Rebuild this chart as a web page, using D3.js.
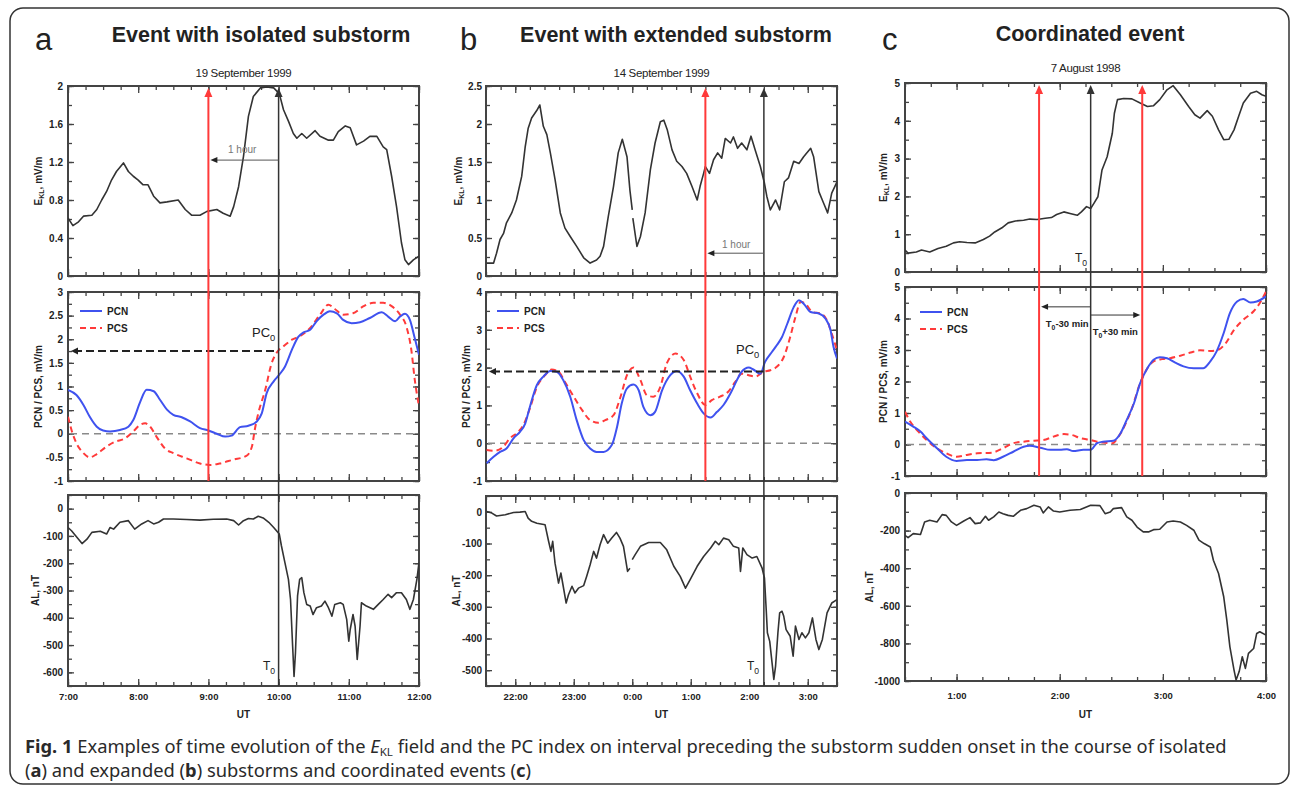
<!DOCTYPE html>
<html>
<head>
<meta charset="utf-8">
<script src="https://d3js.org/d3.v7.min.js"></script>
<style>
  body { margin: 0; background: #fff; }
</style>
</head>
<body>
<script>
// ---- panel a : 19 September 1999 (hours UT) ----
var aEkl = [[7.00,0.61],[7.07,0.53],[7.15,0.57],[7.22,0.63],[7.34,0.64],[7.41,0.70],[7.48,0.80],[7.55,0.89],[7.62,1.01],[7.69,1.10],[7.79,1.19],[7.86,1.10],[7.93,1.05],[8.00,1.01],[8.07,0.96],[8.14,0.96],[8.22,0.84],[8.31,0.77],[8.41,0.78],[8.57,0.80],[8.67,0.70],[8.76,0.64],[8.88,0.64],[8.98,0.68],[9.12,0.70],[9.21,0.66],[9.31,0.63],[9.36,0.73],[9.43,0.94],[9.50,1.26],[9.57,1.68],[9.64,1.89],[9.74,1.98],[9.83,1.99],[9.93,1.98],[10.01,1.92],[10.07,1.75],[10.14,1.63],[10.21,1.50],[10.26,1.45],[10.33,1.50],[10.40,1.45],[10.52,1.53],[10.59,1.47],[10.71,1.43],[10.78,1.43],[10.85,1.52],[10.95,1.58],[11.02,1.56],[11.11,1.38],[11.21,1.42],[11.30,1.47],[11.40,1.47],[11.49,1.36],[11.54,1.33],[11.61,1.05],[11.68,0.73],[11.75,0.35],[11.80,0.17],[11.85,0.12],[11.92,0.17],[12.00,0.21]];
var aPcn = [[7.00,0.93],[7.12,0.82],[7.22,0.61],[7.31,0.36],[7.41,0.15],[7.50,0.07],[7.60,0.05],[7.74,0.08],[7.86,0.15],[7.93,0.29],[8.03,0.68],[8.12,0.93],[8.22,0.90],[8.31,0.72],[8.41,0.51],[8.50,0.40],[8.62,0.35],[8.74,0.26],[8.88,0.12],[9.00,0.07],[9.12,0.00],[9.24,-0.06],[9.33,-0.04],[9.45,0.14],[9.57,0.17],[9.69,0.26],[9.76,0.43],[9.83,0.86],[9.93,1.11],[10.01,1.25],[10.09,1.42],[10.19,1.78],[10.28,2.05],[10.35,2.14],[10.45,2.20],[10.54,2.38],[10.64,2.52],[10.73,2.59],[10.83,2.55],[10.92,2.41],[11.04,2.34],[11.16,2.36],[11.30,2.45],[11.47,2.57],[11.56,2.48],[11.66,2.38],[11.73,2.48],[11.80,2.54],[11.87,2.41],[11.94,2.02],[12.00,1.67]];
var aPcs = [[7.00,0.36],[7.05,0.08],[7.12,-0.20],[7.22,-0.41],[7.31,-0.50],[7.41,-0.43],[7.55,-0.27],[7.67,-0.17],[7.81,-0.10],[7.93,0.05],[8.03,0.19],[8.10,0.22],[8.17,0.15],[8.26,-0.06],[8.38,-0.31],[8.50,-0.41],[8.69,-0.52],[8.88,-0.63],[9.02,-0.66],[9.16,-0.63],[9.35,-0.55],[9.54,-0.47],[9.62,-0.27],[9.66,0.08],[9.71,0.43],[9.81,0.93],[9.90,1.49],[9.97,1.71],[10.07,1.85],[10.19,1.99],[10.31,2.07],[10.45,2.24],[10.59,2.52],[10.71,2.73],[10.80,2.64],[10.92,2.52],[11.06,2.55],[11.21,2.70],[11.35,2.77],[11.49,2.77],[11.61,2.70],[11.73,2.52],[11.82,2.27],[11.89,1.78],[11.94,1.14],[12.00,0.58]];
var aAl = [[7.00,-69],[7.05,-81],[7.15,-112],[7.20,-128],[7.27,-112],[7.34,-87],[7.46,-83],[7.55,-93],[7.60,-69],[7.65,-75],[7.74,-50],[7.86,-44],[7.95,-75],[8.05,-56],[8.14,-44],[8.22,-56],[8.29,-50],[8.36,-38],[8.50,-38],[8.69,-40],[8.88,-42],[9.07,-39],[9.26,-38],[9.36,-44],[9.43,-60],[9.50,-44],[9.57,-36],[9.64,-38],[9.71,-28],[9.78,-34],[9.86,-50],[9.93,-69],[10.01,-93],[10.04,-136],[10.09,-198],[10.14,-259],[10.17,-333],[10.20,-504],[10.22,-615],[10.24,-529],[10.27,-320],[10.30,-259],[10.33,-253],[10.36,-308],[10.40,-351],[10.45,-357],[10.49,-388],[10.54,-363],[10.61,-357],[10.66,-339],[10.71,-363],[10.76,-394],[10.80,-351],[10.88,-345],[10.92,-351],[10.97,-406],[11.00,-486],[11.02,-443],[11.06,-388],[11.09,-431],[11.12,-553],[11.16,-431],[11.18,-345],[11.25,-357],[11.35,-369],[11.42,-351],[11.49,-333],[11.56,-314],[11.61,-326],[11.68,-308],[11.75,-308],[11.82,-333],[11.87,-369],[11.92,-333],[11.97,-259],[12.00,-198]];
var aHours = [7, 8, 9, 10, 11, 12];
var aEklTicks = [0, 0.4, 0.8, 1.2, 1.6, 2];
var aPcTicks = [-1, -0.5, 0, 0.5, 1, 1.5, 2, 2.5, 3];
var aAlTicks = [0, -100, -200, -300, -400, -500, -600];
var aRed = [9.0], aT0 = 10.0, aPc0 = 1.75;

// ---- panel b : 14 September 1999 (hours after 0 UT of 13 Sep, >24 = next day) ----
var bEkl = [[21.51,0.17],[21.63,0.17],[21.68,0.30],[21.74,0.48],[21.80,0.56],[21.85,0.70],[21.94,0.83],[22.02,1.00],[22.11,1.31],[22.17,1.70],[22.22,1.94],[22.28,2.08],[22.37,2.18],[22.42,2.25],[22.48,1.97],[22.54,1.86],[22.60,1.62],[22.68,1.27],[22.77,0.83],[22.85,0.63],[22.94,0.52],[23.05,0.39],[23.17,0.24],[23.28,0.17],[23.39,0.21],[23.45,0.26],[23.51,0.39],[23.59,0.78],[23.68,1.18],[23.76,1.62],[23.83,1.80],[23.91,1.57],[23.96,1.13],[24.00,0.87],[24.005,null],[24.01,0.76],[24.08,0.39],[24.14,0.52],[24.22,0.83],[24.31,1.40],[24.39,1.75],[24.48,2.03],[24.54,2.05],[24.60,1.92],[24.68,1.66],[24.76,1.51],[24.85,1.44],[24.93,1.35],[25.02,1.18],[25.11,1.00],[25.16,1.18],[25.22,1.35],[25.25,1.44],[25.32,1.35],[25.39,1.53],[25.46,1.62],[25.53,1.55],[25.59,1.81],[25.68,1.75],[25.73,1.83],[25.80,1.68],[25.87,1.75],[25.96,1.66],[26.03,1.84],[26.10,1.66],[26.19,1.44],[26.26,1.22],[26.30,1.05],[26.36,0.87],[26.45,1.00],[26.52,0.87],[26.60,1.24],[26.67,1.29],[26.76,1.51],[26.85,1.48],[26.93,1.57],[27.05,1.68],[27.10,1.57],[27.19,1.11],[27.27,0.96],[27.34,0.83],[27.41,1.09],[27.50,1.24]];
var bPcn = [[21.51,-0.53],[21.63,-0.36],[21.74,-0.23],[21.85,-0.14],[21.97,0.13],[22.08,0.30],[22.17,0.52],[22.25,0.96],[22.37,1.54],[22.48,1.76],[22.60,1.91],[22.71,1.89],[22.82,1.67],[22.94,1.23],[23.05,0.61],[23.17,0.08],[23.28,-0.14],[23.39,-0.23],[23.51,-0.23],[23.65,-0.05],[23.74,0.43],[23.82,1.05],[23.91,1.45],[24.02,1.55],[24.11,1.40],[24.19,0.96],[24.31,0.74],[24.39,0.83],[24.51,1.40],[24.65,1.80],[24.76,1.91],[24.88,1.76],[24.99,1.40],[25.11,1.05],[25.22,0.79],[25.34,0.68],[25.45,0.83],[25.56,1.01],[25.68,1.32],[25.79,1.67],[25.87,1.89],[25.99,2.00],[26.07,1.95],[26.19,1.84],[26.27,2.15],[26.39,2.42],[26.47,2.59],[26.56,2.81],[26.65,3.16],[26.76,3.60],[26.85,3.78],[26.93,3.69],[27.05,3.47],[27.19,3.43],[27.30,3.30],[27.39,2.99],[27.44,2.55],[27.50,2.24]];
var bPcs = [[21.51,-0.18],[21.65,-0.20],[21.80,-0.09],[21.91,0.13],[22.02,0.26],[22.14,0.48],[22.25,0.92],[22.37,1.49],[22.51,1.80],[22.62,1.95],[22.74,1.89],[22.85,1.62],[23.00,1.23],[23.14,0.88],[23.28,0.61],[23.42,0.54],[23.54,0.61],[23.68,0.74],[23.80,1.23],[23.91,1.80],[24.02,2.00],[24.14,1.67],[24.25,1.27],[24.36,1.23],[24.48,1.49],[24.59,2.11],[24.74,2.37],[24.88,2.20],[24.99,1.76],[25.11,1.32],[25.25,1.01],[25.36,1.14],[25.50,1.23],[25.64,1.36],[25.76,1.62],[25.87,1.84],[25.99,1.80],[26.10,1.76],[26.25,1.89],[26.36,1.93],[26.47,2.02],[26.59,2.28],[26.70,2.81],[26.79,3.34],[26.88,3.74],[26.96,3.69],[27.08,3.47],[27.22,3.43],[27.33,3.25],[27.41,2.90],[27.50,2.46]];
var bAl = [[21.51,1],[21.60,-4],[21.68,-13],[21.83,-9],[21.97,-2],[22.08,-1],[22.17,1],[22.22,-20],[22.28,-30],[22.37,-36],[22.51,-41],[22.57,-93],[22.61,-125],[22.64,-93],[22.68,-162],[22.74,-225],[22.78,-193],[22.82,-235],[22.87,-288],[22.91,-262],[22.97,-235],[23.02,-256],[23.08,-241],[23.17,-233],[23.22,-204],[23.28,-167],[23.34,-125],[23.39,-146],[23.45,-104],[23.51,-72],[23.58,-99],[23.65,-83],[23.73,-65],[23.79,-83],[23.85,-109],[23.92,-188],[23.96,-178],[23.98,null],[24.00,-151],[24.05,-135],[24.14,-109],[24.28,-97],[24.48,-97],[24.59,-120],[24.71,-172],[24.82,-204],[24.91,-241],[24.99,-214],[25.11,-172],[25.22,-141],[25.34,-114],[25.42,-93],[25.48,-104],[25.56,-83],[25.65,-88],[25.73,-109],[25.82,-114],[25.85,-188],[25.89,-114],[25.96,-135],[26.05,-146],[26.13,-141],[26.22,-178],[26.26,-209],[26.29,-309],[26.31,-382],[26.35,-409],[26.39,-477],[26.42,-529],[26.45,-487],[26.49,-382],[26.52,-319],[26.56,-314],[26.59,-330],[26.63,-372],[26.70,-393],[26.75,-456],[26.79,-361],[26.85,-403],[26.90,-382],[26.96,-398],[27.02,-382],[27.08,-335],[27.14,-403],[27.19,-435],[27.25,-403],[27.33,-319],[27.41,-288],[27.50,-277]];
var bHours = [22, 23, 24, 25, 26, 27];
var bEklTicks = [0, 0.5, 1, 1.5, 2, 2.5];
var bPcTicks = [-1, 0, 1, 2, 3, 4];
var bAlTicks = [0, -100, -200, -300, -400, -500];
var bRed = [25.25], bT0 = 26.25, bPc0 = 1.9;

// ---- panel c : 7 August 1998 ----
var cEkl = [[0.50,0.58],[0.53,0.50],[0.61,0.53],[0.66,0.58],[0.74,0.53],[0.82,0.62],[0.90,0.68],[0.97,0.77],[1.03,0.80],[1.10,0.78],[1.18,0.77],[1.26,0.86],[1.32,0.95],[1.37,1.06],[1.44,1.17],[1.50,1.30],[1.57,1.35],[1.65,1.37],[1.71,1.40],[1.78,1.39],[1.86,1.42],[1.92,1.44],[1.97,1.52],[2.04,1.59],[2.10,1.55],[2.17,1.50],[2.21,1.59],[2.26,1.73],[2.30,1.68],[2.33,1.81],[2.37,1.99],[2.41,2.70],[2.46,3.05],[2.51,3.67],[2.53,4.20],[2.56,4.56],[2.62,4.59],[2.70,4.58],[2.78,4.47],[2.85,4.38],[2.91,4.40],[2.97,4.56],[3.04,4.82],[3.10,4.93],[3.17,4.69],[3.25,4.38],[3.31,4.16],[3.36,4.07],[3.43,4.27],[3.48,4.12],[3.54,3.76],[3.59,3.50],[3.64,3.51],[3.69,3.76],[3.74,4.16],[3.78,4.47],[3.85,4.73],[3.91,4.78],[3.96,4.69],[4.00,4.65]];
var cPcn = [[0.50,0.73],[0.58,0.57],[0.65,0.41],[0.71,0.20],[0.81,-0.12],[0.90,-0.39],[1.00,-0.52],[1.10,-0.49],[1.20,-0.49],[1.29,-0.47],[1.36,-0.50],[1.45,-0.39],[1.55,-0.23],[1.65,-0.07],[1.71,-0.04],[1.81,-0.10],[1.91,-0.17],[2.00,-0.17],[2.07,-0.15],[2.13,-0.21],[2.23,-0.17],[2.30,-0.17],[2.36,0.04],[2.42,0.09],[2.52,0.12],[2.59,0.36],[2.65,0.78],[2.72,1.31],[2.78,1.95],[2.85,2.42],[2.91,2.69],[2.97,2.77],[3.04,2.74],[3.12,2.60],[3.20,2.48],[3.30,2.42],[3.39,2.42],[3.46,2.64],[3.52,2.95],[3.59,3.54],[3.65,4.17],[3.72,4.54],[3.78,4.62],[3.85,4.51],[3.91,4.54],[4.00,4.70]];
var cPcs = [[0.50,1.04],[0.55,0.73],[0.63,0.41],[0.71,0.14],[0.81,-0.12],[0.90,-0.28],[1.00,-0.39],[1.10,-0.33],[1.20,-0.28],[1.34,-0.26],[1.45,-0.12],[1.55,0.04],[1.65,0.09],[1.75,0.12],[1.84,0.14],[1.94,0.25],[2.04,0.33],[2.12,0.30],[2.20,0.20],[2.30,0.14],[2.36,0.09],[2.42,0.06],[2.51,0.04],[2.57,0.25],[2.64,0.67],[2.70,1.15],[2.78,1.95],[2.85,2.42],[2.91,2.64],[2.99,2.71],[3.07,2.74],[3.17,2.82],[3.27,2.92],[3.36,2.99],[3.46,2.97],[3.54,3.01],[3.61,3.22],[3.69,3.64],[3.78,3.96],[3.88,4.23],[3.94,4.49],[4.00,4.86]];
var cAl = [[0.50,-225],[0.53,-237],[0.58,-216],[0.65,-221],[0.69,-154],[0.74,-145],[0.81,-154],[0.86,-115],[0.90,-119],[0.95,-154],[1.00,-172],[1.07,-149],[1.13,-131],[1.18,-163],[1.23,-159],[1.28,-124],[1.31,-145],[1.36,-127],[1.41,-101],[1.45,-110],[1.50,-119],[1.55,-124],[1.62,-92],[1.68,-83],[1.75,-65],[1.81,-74],[1.84,-106],[1.89,-74],[1.94,-96],[2.00,-101],[2.10,-92],[2.20,-88],[2.30,-65],[2.39,-67],[2.44,-110],[2.49,-101],[2.52,-83],[2.60,-78],[2.65,-127],[2.70,-145],[2.75,-181],[2.81,-207],[2.86,-207],[2.91,-195],[2.97,-193],[3.04,-154],[3.10,-149],[3.17,-154],[3.23,-172],[3.30,-198],[3.35,-251],[3.40,-269],[3.46,-287],[3.49,-358],[3.54,-428],[3.59,-552],[3.62,-676],[3.65,-818],[3.69,-942],[3.71,-995],[3.74,-950],[3.77,-871],[3.80,-933],[3.83,-853],[3.88,-827],[3.91,-747],[3.94,-738],[4.00,-756]];
var cHours = [1, 2, 3, 4];
var cEklTicks = [0, 1, 2, 3, 4, 5];
var cPcTicks = [-1, 0, 1, 2, 3, 4, 5];
var cAlTicks = [0, -200, -400, -600, -800, -1000];
var cRed = [1.8, 2.8], cT0 = 2.3;

var FONT = '"Liberation Sans", Arial, Helvetica, sans-serif';
var INK = "#222", FRAME = "#444";
var BLUE = "#3f52ef", RED = "#ff3a3a";

var svg = d3.select("body").append("svg")
    .attr("width", 1292).attr("height", 790)
    .style("font-family", FONT);

// outer rounded border
svg.append("rect").attr("x", 10).attr("y", 8).attr("width", 1279).attr("height", 776)
    .attr("rx", 13).attr("fill", "none").attr("stroke", "#333").attr("stroke-width", 1.5);

function steps(dom, s) {
    var out = [], lo = Math.ceil(dom[0] / s - 1e-9), hi = Math.floor(dom[1] / s + 1e-9);
    for (var i = lo; i <= hi; i++) out.push(+(i * s).toFixed(4));
    return out;
}
function hhmm(t) { return (Math.round(t) % 24) + ":00"; }

var clipN = 0;
// one framed plot box with inward ticks on all four sides
function makePlot(x, s) {
    var x0 = x.range()[0], x1 = x.range()[1];
    var y = d3.scaleLinear().domain(s.dom).range([s.y1, s.y0]);
    var g = svg.append("g");
    var xMinor = steps(x.domain(), 0.25);
    var xMajor = xMinor.filter(function(v) { return Math.abs(v - Math.round(v)) < 1e-6; });
    var yMinor = steps(s.dom, s.minor);

    function clean(sel) {
        sel.select(".domain").remove();
        sel.selectAll(".tick line").attr("stroke", FRAME).attr("stroke-width", 1.3);
    }
    function styleText(sel, size) {
        sel.selectAll("text").attr("font-family", FONT).attr("font-size", size)
            .attr("font-weight", "bold").attr("fill", INK);
    }
    // y ticks
    g.append("g").attr("transform", "translate(" + x0 + ",0)")
        .call(d3.axisLeft(y).tickValues(yMinor).tickSize(-4).tickFormat("")).call(clean);
    g.append("g").attr("transform", "translate(" + x0 + ",0)")
        .call(d3.axisLeft(y).tickValues(s.labels).tickSize(-6).tickPadding(s.pad)
            .tickFormat(function(d) { return String(d); }))
        .call(clean).call(styleText, 10);
    g.append("g").attr("transform", "translate(" + x1 + ",0)")
        .call(d3.axisRight(y).tickValues(yMinor).tickSize(-4).tickFormat("")).call(clean);
    g.append("g").attr("transform", "translate(" + x1 + ",0)")
        .call(d3.axisRight(y).tickValues(s.labels).tickSize(-6).tickFormat("")).call(clean);
    // x ticks
    g.append("g").attr("transform", "translate(0," + s.y0 + ")")
        .call(d3.axisTop(x).tickValues(xMinor).tickSize(-4).tickFormat("")).call(clean);
    g.append("g").attr("transform", "translate(0," + s.y0 + ")")
        .call(d3.axisTop(x).tickValues(xMajor).tickSize(-7).tickFormat("")).call(clean);
    g.append("g").attr("transform", "translate(0," + s.y1 + ")")
        .call(d3.axisBottom(x).tickValues(xMinor).tickSize(-4).tickFormat("")).call(clean);
    g.append("g").attr("transform", "translate(0," + s.y1 + ")")
        .call(d3.axisBottom(x).tickValues(s.hours || xMajor).tickSize(-7).tickPadding(s.xpad || 8)
            .tickFormat(s.hours ? hhmm : ""))
        .call(clean).call(styleText, 9.5);

    g.append("rect").attr("x", x0).attr("y", s.y0).attr("width", x1 - x0).attr("height", s.y1 - s.y0)
        .attr("fill", "none").attr("stroke", FRAME).attr("stroke-width", 2);

    var id = "clip" + (clipN++);
    svg.append("clipPath").attr("id", id).append("rect")
        .attr("x", x0).attr("y", s.y0).attr("width", x1 - x0).attr("height", s.y1 - s.y0);
    return { y: y, clip: "url(#" + id + ")", x0: x0, x1: x1, y0: s.y0, y1: s.y1 };
}

function drawLine(p, x, data, color, width, dash, smooth) {
    var line = d3.line()
        .defined(function(d) { return d[1] != null; })
        .x(function(d) { return x(d[0]); })
        .y(function(d) { return p.y(d[1]); })
        .curve(smooth ? d3.curveMonotoneX : d3.curveLinear);
    svg.append("path").datum(data).attr("clip-path", p.clip)
        .attr("d", line).attr("fill", "none").attr("stroke", color)
        .attr("stroke-width", width).attr("stroke-dasharray", dash || null)
        .attr("stroke-linejoin", "round");
}

function arrowHead(px, py, dir, color, len, half) {
    var pts;
    if (dir === "up") pts = [[px, py], [px - half, py + len], [px + half, py + len]];
    else if (dir === "left") pts = [[px, py], [px + len, py - half], [px + len, py + half]];
    else pts = [[px, py], [px - len, py - half], [px - len, py + half]];
    svg.append("path").attr("d", "M" + pts.join("L") + "Z").attr("fill", color);
}

function subText(px, py, main, sub, size, anchor, weight, color) {
    var t = svg.append("text").attr("x", px).attr("y", py).attr("font-size", size)
        .attr("text-anchor", anchor || "start").attr("font-weight", weight || "normal")
        .attr("fill", color || INK);
    t.append("tspan").text(main);
    t.append("tspan").attr("dy", size * 0.3).attr("font-size", size * 0.72).text(sub);
    return t;
}

function yTitle(px, p, parts) {
    var t = svg.append("text")
        .attr("transform", "translate(" + px + "," + ((p.y0 + p.y1) / 2) + ") rotate(-90)")
        .attr("text-anchor", "middle").attr("font-size", 10).attr("font-weight", "bold").attr("fill", INK);
    parts.forEach(function(q) {
        var ts = t.append("tspan").text(q[0]);
        if (q[1]) ts.attr("font-size", 7).attr("dy", 2);
        else if (q[2]) ts.attr("dy", -2);
    });
}

function legend(p, dx, dy) {
    var xl = p.x0 + dx, yl = p.y0 + dy;
    svg.append("line").attr("x1", xl).attr("x2", xl + 22).attr("y1", yl).attr("y2", yl)
        .attr("stroke", BLUE).attr("stroke-width", 2);
    svg.append("line").attr("x1", xl).attr("x2", xl + 22).attr("y1", yl + 17).attr("y2", yl + 17)
        .attr("stroke", RED).attr("stroke-width", 2).attr("stroke-dasharray", "6,4");
    svg.append("text").attr("x", xl + 27).attr("y", yl + 3.5).attr("font-size", 10)
        .attr("font-weight", "bold").attr("fill", INK).text("PCN");
    svg.append("text").attr("x", xl + 27).attr("y", yl + 20.5).attr("font-size", 10)
        .attr("font-weight", "bold").attr("fill", INK).text("PCS");
}

function verticals(x, top, bottom, t, color, width) {
    var xv = x(t);
    svg.append("line").attr("x1", xv).attr("x2", xv).attr("y1", top.y0 + 6).attr("y2", bottom.y1)
        .attr("stroke", color).attr("stroke-width", width);
    arrowHead(xv, top.y0 + 2, "up", color, 9, 4);
}

function zeroLine(p) {
    svg.append("line").attr("x1", p.x0 + 2).attr("x2", p.x1 - 2)
        .attr("y1", p.y(0)).attr("y2", p.y(0))
        .attr("stroke", "#8a8a8a").attr("stroke-width", 1.5).attr("stroke-dasharray", "7,5");
}

function pc0Line(p, x, level, tEnd) {
    svg.append("line").attr("x1", p.x0 + 6).attr("x2", x(tEnd))
        .attr("y1", p.y(level)).attr("y2", p.y(level))
        .attr("stroke", "#222").attr("stroke-width", 2).attr("stroke-dasharray", "8,4");
    arrowHead(p.x0 + 3, p.y(level), "left", "#222", 7, 3.5);
}

function hourArrow(x, p, tFrom, tTo, val, tx, ty) {
    var yv = p.y(val);
    svg.append("line").attr("x1", x(tFrom)).attr("x2", x(tTo) + 5).attr("y1", yv).attr("y2", yv)
        .attr("stroke", "#555").attr("stroke-width", 1);
    arrowHead(x(tTo) + 2, yv, "left", "#222", 7, 3);
    svg.append("text").attr("x", tx).attr("y", ty).attr("font-size", 10)
        .attr("fill", "#777").text("1 hour");
}

// ---------------- Panel a ----------------
var xa = d3.scaleLinear().domain([7, 12]).range([68, 419]);
var aTop = makePlot(xa, { y0: 86, y1: 276, dom: [0, 2], minor: 0.2, labels: aEklTicks, pad: 5 });
var aMid = makePlot(xa, { y0: 292, y1: 481, dom: [-1, 3], minor: 0.25, labels: aPcTicks, pad: 5 });
var aBot = makePlot(xa, { y0: 495, y1: 686, dom: [-650, 50], minor: 50, labels: aAlTicks, pad: 5, hours: aHours, xpad: 7 });
drawLine(aTop, xa, aEkl, "#333", 1.6, null, false);
zeroLine(aMid);
drawLine(aMid, xa, aPcs, RED, 2, "6,4", true);
drawLine(aMid, xa, aPcn, BLUE, 2, null, true);
drawLine(aBot, xa, aAl, "#333", 1.6, null, false);
pc0Line(aMid, xa, aPc0, aT0);
aRed.forEach(function(t) { verticals(xa, aTop, aMid, t, RED, 2); });
verticals(xa, aTop, aBot, aT0, "#333", 1.5);
hourArrow(xa, aTop, aT0, aRed[0], 1.22, 228, 153);
subText(252, 337, "PC", "0", 13);
subText(263, 670, "T", "0", 12);
legend(aMid, 12, 19);
yTitle(42, aTop, [["E"], ["KL", true], [", mV/m", false, true]]);
yTitle(42, aMid, [["PCN / PCS, mV/m"]]);
yTitle(39, aBot, [["AL, nT"]]);

// ---------------- Panel b ----------------
var xb = d3.scaleLinear().domain([21.5, 27.5]).range([486, 837]);
var bTop = makePlot(xb, { y0: 86, y1: 276, dom: [0, 2.5], minor: 0.25, labels: bEklTicks, pad: 4 });
var bMid = makePlot(xb, { y0: 292, y1: 481, dom: [-1, 4], minor: 0.5, labels: bPcTicks, pad: 4 });
var bBot = makePlot(xb, { y0: 496, y1: 686, dom: [-550, 50], minor: 50, labels: bAlTicks, pad: 4, hours: bHours, xpad: 7 });
drawLine(bTop, xb, bEkl, "#333", 1.6, null, false);
zeroLine(bMid);
drawLine(bMid, xb, bPcs, RED, 2, "6,4", true);
drawLine(bMid, xb, bPcn, BLUE, 2, null, true);
drawLine(bBot, xb, bAl, "#333", 1.6, null, false);
pc0Line(bMid, xb, bPc0, bT0);
bRed.forEach(function(t) { verticals(xb, bTop, bMid, t, RED, 2); });
verticals(xb, bTop, bBot, bT0, "#333", 1.5);
hourArrow(xb, bTop, bT0, bRed[0], 0.3, 722, 248);
subText(736, 354, "PC", "0", 13);
subText(747, 670, "T", "0", 12);
legend(bMid, 11, 19);
yTitle(462, bTop, [["E"], ["KL", true], [", mV/m", false, true]]);
yTitle(470, bMid, [["PCN / PCS, mV/m"]]);
yTitle(460, bBot, [["AL, nT"]]);

// ---------------- Panel c ----------------
var xc = d3.scaleLinear().domain([0.5, 4]).range([905, 1266]);
var cTop = makePlot(xc, { y0: 83, y1: 272, dom: [0, 5], minor: 0.5, labels: cEklTicks, pad: 5 });
var cMid = makePlot(xc, { y0: 287, y1: 476, dom: [-1, 5], minor: 0.5, labels: cPcTicks, pad: 5 });
var cBot = makePlot(xc, { y0: 493, y1: 681, dom: [-1000, 0], minor: 100, labels: cAlTicks, pad: 5, hours: cHours, xpad: 11 });
drawLine(cTop, xc, cEkl, "#333", 1.6, null, false);
zeroLine(cMid);
drawLine(cMid, xc, cPcs, RED, 2, "6,4", true);
drawLine(cMid, xc, cPcn, BLUE, 2, null, true);
drawLine(cBot, xc, cAl, "#333", 1.6, null, false);
cRed.forEach(function(t) { verticals(xc, cTop, cMid, t, RED, 2); });
verticals(xc, cTop, cMid, cT0, "#333", 1.5);
subText(1075, 262, "T", "0", 12);
// T0 -/+ 30 min arrows
var yA1 = cMid.y(4.37), yA2 = cMid.y(4.11);
svg.append("line").attr("x1", xc(cT0)).attr("x2", xc(cRed[0]) + 6).attr("y1", yA1).attr("y2", yA1)
    .attr("stroke", "#333").attr("stroke-width", 1);
arrowHead(xc(cRed[0]) + 2, yA1, "left", "#222", 7, 3);
svg.append("line").attr("x1", xc(cT0)).attr("x2", xc(cRed[1]) - 6).attr("y1", yA2).attr("y2", yA2)
    .attr("stroke", "#333").attr("stroke-width", 1);
arrowHead(xc(cRed[1]) - 2, yA2, "right", "#222", 7, 3);
var tm = subText(xc(cT0) - 2, 327, "T", "0", 9.5, "end", "bold");
tm.append("tspan").attr("dy", -9.5 * 0.3).text("-30 min");
var tp = subText(xc(cT0) + 2, 335, "T", "0", 9.5, "start", "bold");
tp.append("tspan").attr("dy", -9.5 * 0.3).text("+30 min");
legend(cMid, 15, 25);
yTitle(887, cTop, [["E"], ["KL", true], [", mV/m", false, true]]);
yTitle(887, cMid, [["PCN / PCS, mV/m"]]);
yTitle(873, cBot, [["AL, nT"]]);

// ---------------- titles ----------------
[[35, "a"], [460, "b"], [882, "c"]].forEach(function(d) {
    svg.append("text").attr("x", d[0]).attr("y", 50).attr("font-size", 31).attr("fill", INK).text(d[1]);
});
[[261, 42, "Event with isolated substorm"], [676, 42, "Event with extended substorm"], [1090, 41, "Coordinated event"]]
    .forEach(function(d) {
        svg.append("text").attr("x", d[0]).attr("y", d[1]).attr("text-anchor", "middle")
            .attr("font-size", 21.5).attr("font-weight", "bold").attr("fill", INK).text(d[2]);
    });
[[(xa.range()[0] + xa.range()[1]) / 2, 77, "19 September 1999"],
 [(xb.range()[0] + xb.range()[1]) / 2, 77, "14 September 1999"],
 [(xc.range()[0] + xc.range()[1]) / 2, 72, "7 August 1998"]].forEach(function(d) {
    svg.append("text").attr("x", d[0]).attr("y", d[1]).attr("text-anchor", "middle")
        .attr("font-size", 11.5).attr("fill", INK).attr("letter-spacing", -0.3).text(d[2]);
});
[xa, xb, xc].forEach(function(x) {
    svg.append("text").attr("x", (x.range()[0] + x.range()[1]) / 2).attr("y", 718)
        .attr("text-anchor", "middle").attr("font-size", 10).attr("font-weight", "bold")
        .attr("fill", INK).text("UT");
});

// ---------------- caption ----------------
var capFont = '"Noto Sans", "Open Sans", sans-serif';
var c1 = svg.append("text").attr("font-family", capFont).attr("font-size", 17.5).attr("fill", "#2a2a2a");
c1.append("tspan").attr("font-weight", "bold").text("Fig. 1");
c1.append("tspan").text(" Examples of time evolution of the ");
c1.append("tspan").attr("font-style", "italic").text("E");
c1.append("tspan").attr("font-size", 11).attr("dy", 3).text("KL");
c1.append("tspan").attr("dy", -3).text(" field and the PC index on interval preceding the substorm sudden onset in the course of isolated");
var c2 = svg.append("text").attr("font-family", capFont).attr("font-size", 17.5).attr("fill", "#2a2a2a");
[["(", 0], ["a", 1], [") and expanded (", 0], ["b", 1], [") substorms and coordinated events (", 0], ["c", 1], [")", 0]]
    .forEach(function(q) { c2.append("tspan").attr("font-weight", q[1] ? "bold" : null).text(q[0]); });
var w1 = c1.node().getComputedTextLength();
var k = (1228 - 25) / w1;
c1.attr("transform", "translate(25,753) scale(" + k + ",1)");
c2.attr("transform", "translate(25,777) scale(" + k + ",1)");
</script>
</body>
</html>
